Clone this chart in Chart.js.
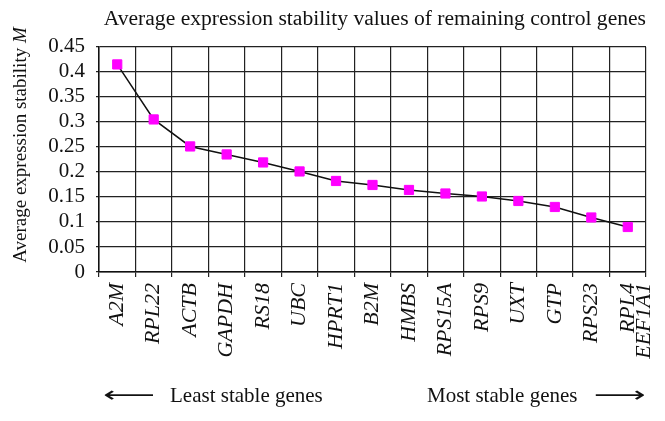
<!DOCTYPE html>
<html>
<head>
<meta charset="utf-8">
<script src="https://cdn.jsdelivr.net/npm/chart.js@4/dist/chart.umd.min.js"></script>
<style>
  html, body { margin: 0; padding: 0; background: #fff; }
  #wrap { position: relative; width: 665px; height: 421px; font-family: "Liberation Serif", "DejaVu Serif", serif; }
  #chart { position: absolute; left: 0; top: 0; }
  .note { position: absolute; top: 383px; font-size: 21px; color: #111; white-space: nowrap; }
  .arrow { position: absolute; top: 382px; font-family: "DejaVu Sans", sans-serif; font-size: 22px; color: #111;
           transform-origin: left center; transform: scaleX(1.65); }
</style>
</head>
<body>
<div id="wrap">
  <canvas id="chart" width="665" height="421"></canvas>
  <span class="arrow" style="left:103px">⟵</span>
  <div class="note" style="left:170px">Least stable genes</div>
  <div class="note" style="left:427px">Most stable genes</div>
  <span class="arrow" style="left:594px">⟶</span>
</div>
<script>
const genes = ['A2M', 'RPL22', 'ACTB', 'GAPDH', 'RS18', 'UBC', 'HPRT1', 'B2M', 'HMBS',
  'RPS15A', 'RPS9', 'UXT', 'GTP', 'RPS23', ['RPL4', 'EEF1A1']];
const stabilityM = [0.415, 0.305, 0.251, 0.235, 0.219, 0.201, 0.182, 0.174, 0.164,
  0.157, 0.151, 0.142, 0.130, 0.109, 0.090];
const yTickValues = [0, 0.05, 0.1, 0.15, 0.2, 0.25, 0.3, 0.35, 0.4, 0.45];
const yTickLabels = ['0', '0.05', '0.1', '0.15', '0.2', '0.25', '0.3', '0.35', '0.4', '0.45'];

const SERIF = '"Liberation Serif", "DejaVu Serif", serif';

// y title with italic M, drawn rotated at the left edge
const yTitlePlugin = {
  id: 'yTitle',
  afterDraw(chart) {
    const ctx = chart.ctx;
    const plain = 'Average expression stability ';
    const ital = 'M';
    ctx.save();
    ctx.fillStyle = '#111';
    ctx.font = '19px ' + SERIF;
    const w1 = ctx.measureText(plain).width;
    ctx.font = 'italic 19px ' + SERIF;
    const w2 = ctx.measureText(ital).width;
    ctx.translate(26, 145);
    ctx.rotate(-Math.PI / 2);
    ctx.textBaseline = 'alphabetic';
    ctx.textAlign = 'left';
    const x = -(w1 + w2) / 2;
    ctx.font = '19px ' + SERIF;
    ctx.fillText(plain, x, 0);
    ctx.font = 'italic 19px ' + SERIF;
    ctx.fillText(ital, x + w1, 0);
    ctx.restore();
  }
};

new Chart(document.getElementById('chart'), {
  type: 'line',
  data: {
    labels: genes,
    datasets: [{
      data: stabilityM,
      borderColor: '#111',
      borderWidth: 1.5,
      tension: 0,
      pointStyle: 'rect',
      pointRadius: 6.5,
      pointHoverRadius: 6.5,
      pointBackgroundColor: '#ff00ff',
      pointBorderColor: '#ff00ff',
      pointBorderWidth: 1
    }]
  },
  options: {
    responsive: false,
    animation: false,
    layout: { padding: { left: 0, right: 19, top: 0, bottom: 0 } },
    plugins: {
      legend: { display: false },
      tooltip: { enabled: false },
      title: {
        display: true,
        text: 'Average expression stability values of remaining control genes',
        color: '#111',
        align: 'end',
        font: { family: SERIF, size: 21.6, weight: 'normal' },
        padding: { top: 6, bottom: 15 }
      }
    },
    scales: {
      x: {
        offset: true,
        grid: { offset: true, color: '#222', lineWidth: 1.2, tickLength: 5, drawTicks: true },
        border: { color: '#111', width: 1.5 },
        ticks: {
          minRotation: 90,
          maxRotation: 90,
          autoSkip: false,
          padding: 6,
          color: '#111',
          font: { family: SERIF, size: 22, style: 'italic', lineHeight: 0.76 }
        },
        afterFit(scale) {
          scale.height = 149;
          scale.paddingLeft = 0;
          scale.paddingRight = 0;
        }
      },
      y: {
        min: 0,
        max: 0.45,
        grid: { color: '#222', lineWidth: 1.2, tickLength: 3 },
        border: { color: '#111', width: 1.5 },
        afterBuildTicks(scale) {
          scale.ticks = yTickValues.map((v) => ({ value: v }));
        },
        ticks: {
          autoSkip: false,
          padding: 11,
          color: '#111',
          font: { family: SERIF, size: 21 },
          callback: (v, i) => yTickLabels[i]
        },
        afterFit(scale) { scale.width = 99; }
      }
    }
  },
  plugins: [yTitlePlugin]
});
</script>
</body>
</html>
